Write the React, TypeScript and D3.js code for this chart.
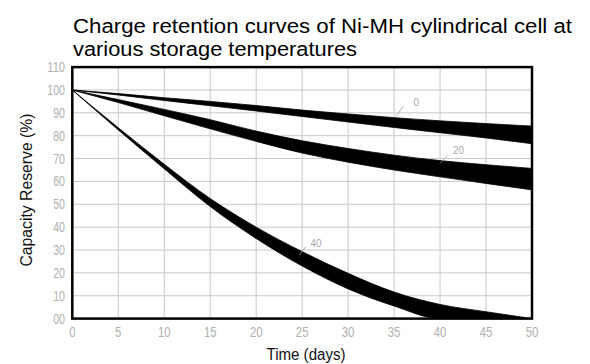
import { useRef, useEffect } from "react";
import * as d3 from "d3";

const days = [0, 5, 10, 15, 20, 25, 30, 35, 40, 45, 50];

// upper / lower edge of each band (capacity %)
const t0Upper = [100, 98.4, 96.6, 95, 93.2, 91.2, 89.5, 87.9, 86.5, 85.3, 84.2];
const t0Lower = [100, 97.8, 95.4, 93.1, 90.8, 88.4, 86, 83.6, 81.3, 79, 76.5];
const t20Upper = [100, 95.8, 91.5, 87, 82, 77.8, 74.4, 71.5, 69.1, 67.3, 65.7];
const t20Lower = [100, 94.5, 88.7, 83, 77.5, 72.4, 68.4, 65, 62, 59.1, 56.3];
const t40Upper = [100, 83.5, 67.5, 52.5, 40, 29.3, 19.8, 11.6, 6.2, 3, 0];
const t40Lower = [100, 82.5, 65.5, 49, 35, 23, 13, 5.5, 0, 0, 0];

const xTicks = [0, 5, 10, 15, 20, 25, 30, 35, 40, 45, 50];
const yTicks = [0, 10, 20, 30, 40, 50, 60, 70, 80, 90, 100, 110];

// band captions: leader line start/end and text position, in data units
const bandLabels = [
  { text: "0", from: [35.2, 88.6], to: [36.0, 92.7], at: [37.4, 93.2] },
  { text: "20", from: [40.0, 67.9], to: [40.9, 71.6], at: [42.0, 72.0] },
  { text: "40", from: [24.7, 27.8], to: [25.4, 31.5], at: [26.5, 31.4] },
];

const W = 590;
const H = 364;
const font = "'Liberation Sans', Arial, sans-serif";

export default function App() {
  const svgRef = useRef<SVGSVGElement>(null);

  useEffect(() => {
    if (!svgRef.current) return;
    const svg = d3.select(svgRef.current);
    svg.selectAll("*").remove();

    const x = d3.scaleLinear().domain([0, 50]).range([72.3, 532]);
    const y = d3.scaleLinear().domain([0, 110]).range([318.6, 67.1]);

    // grid
    const grid = svg.append("g").attr("stroke", "#c8c8c8").attr("stroke-width", 1);
    xTicks.forEach((t) => {
      grid.append("line").attr("x1", x(t)).attr("x2", x(t)).attr("y1", y(0)).attr("y2", y(110));
    });
    yTicks.forEach((t) => {
      grid.append("line").attr("x1", x(0)).attr("x2", x(50)).attr("y1", y(t)).attr("y2", y(t));
    });

    // bands
    const area = d3
      .area<number>()
      .x((_, i) => x(days[i]))
      .curve(d3.curveMonotoneX);
    const bands: [number[], number[]][] = [
      [t0Upper, t0Lower],
      [t20Upper, t20Lower],
      [t40Upper, t40Lower],
    ];
    bands.forEach(([up, lo]) => {
      svg
        .append("path")
        .datum(days)
        .attr("d", area.y0((_, i) => y(lo[i])).y1((_, i) => y(up[i])))
        .attr("fill", "#000")
        .attr("stroke", "#000")
        .attr("stroke-width", 0.8);
    });

    // band captions
    bandLabels.forEach((l) => {
      svg
        .append("line")
        .attr("x1", x(l.from[0]))
        .attr("y1", y(l.from[1]))
        .attr("x2", x(l.to[0]))
        .attr("y2", y(l.to[1]))
        .attr("stroke", "#999")
        .attr("stroke-width", 0.8);
      svg
        .append("text")
        .attr("x", x(l.at[0]))
        .attr("y", y(l.at[1]))
        .attr("text-anchor", "middle")
        .attr("fill", "#aaa")
        .attr("font-size", 11)
        .attr("font-family", font)
        .attr("textLength", l.text.length * 5.5)
        .attr("lengthAdjust", "spacingAndGlyphs")
        .text(l.text);
    });

    // frame
    svg
      .append("rect")
      .attr("x", x(0))
      .attr("y", y(110))
      .attr("width", x(50) - x(0))
      .attr("height", y(0) - y(110))
      .attr("fill", "none")
      .attr("stroke", "#000")
      .attr("stroke-width", 2.5);

    // tick labels
    xTicks.forEach((t) => {
      const s = String(t);
      svg
        .append("text")
        .attr("x", x(t))
        .attr("y", 337)
        .attr("text-anchor", "middle")
        .attr("fill", "#b0b0b0")
        .attr("font-size", 14)
        .attr("font-family", font)
        .attr("textLength", s.length * 6.3)
        .attr("lengthAdjust", "spacingAndGlyphs")
        .text(s);
    });
    yTicks.forEach((t) => {
      const s = t === 0 ? "00" : String(t);
      svg
        .append("text")
        .attr("x", 65)
        .attr("y", y(t) + 5)
        .attr("text-anchor", "end")
        .attr("fill", "#b0b0b0")
        .attr("font-size", 14)
        .attr("font-family", font)
        .attr("textLength", s.length * 5.9)
        .attr("lengthAdjust", "spacingAndGlyphs")
        .text(s);
    });

    // axis titles
    svg
      .append("text")
      .attr("x", 306)
      .attr("y", 360)
      .attr("text-anchor", "middle")
      .attr("fill", "#111")
      .attr("font-size", 16)
      .attr("font-family", font)
      .attr("textLength", 79)
      .attr("lengthAdjust", "spacingAndGlyphs")
      .text("Time (days)");
    svg
      .append("text")
      .attr("transform", "translate(32,190) rotate(-90)")
      .attr("text-anchor", "middle")
      .attr("fill", "#111")
      .attr("font-size", 16)
      .attr("font-family", font)
      .attr("textLength", 153)
      .attr("lengthAdjust", "spacingAndGlyphs")
      .text("Capacity Reserve (%)");

    // title
    const titleLines = [
      { s: "Charge retention curves of Ni-MH cylindrical cell at", w: 499 },
      { s: "various storage temperatures", w: 284 },
    ];
    titleLines.forEach((l, i) => {
      svg
        .append("text")
        .attr("x", 73)
        .attr("y", 33 + i * 23)
        .attr("fill", "#000")
        .attr("font-size", 20)
        .attr("font-family", font)
        .attr("textLength", l.w)
        .attr("lengthAdjust", "spacingAndGlyphs")
        .text(l.s);
    });
  }, []);

  return (
    <svg
      ref={svgRef}
      width={W}
      height={H}
      style={{ position: "absolute", left: 0, top: 0, background: "#fff" }}
    />
  );
}
